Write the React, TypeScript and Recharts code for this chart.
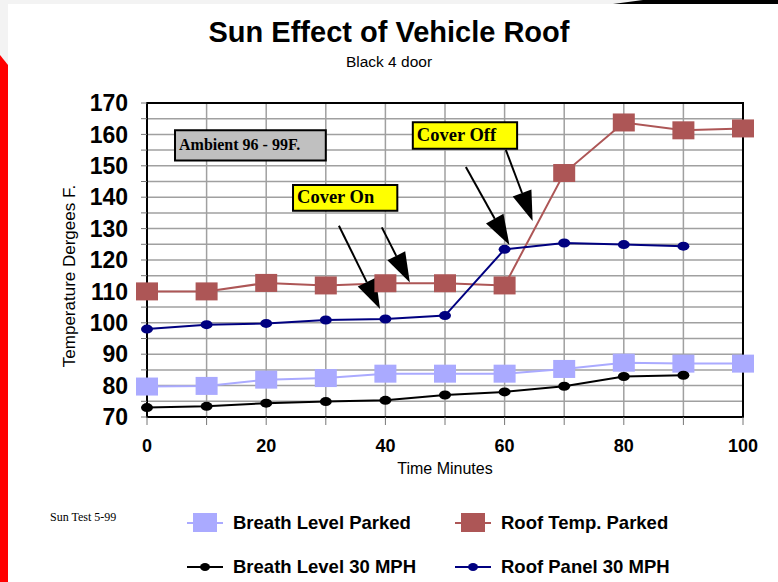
import React from 'react';
import { LineChart, Line, XAxis, YAxis, CartesianGrid, ReferenceArea, ReferenceLine } from 'recharts';

// readings taken every 10 minutes
const minutes = [0, 10, 20, 30, 40, 50, 60, 70, 80, 90, 100];
const breathParked = [79.7, 79.9, 81.9, 82.4, 83.8, 83.8, 83.8, 85.3, 87.3, 87, 87];
const roofParked = [110, 110, 112.7, 111.9, 112.6, 112.6, 111.9, 147.7, 163.8, 161.3, 161.9];
const breath30 = [73, 73.4, 74.4, 74.9, 75.3, 77, 78, 79.8, 82.9, 83.3, null];
const roof30 = [98, 99.4, 99.8, 100.9, 101.2, 102.3, 123.4, 125.4, 124.9, 124.4, null];

const xTicks = [0, 10, 20, 30, 40, 50, 60, 70, 80, 90, 100];
const yTicks = [70, 75, 80, 85, 90, 95, 100, 105, 110, 115, 120, 125, 130, 135, 140, 145, 150, 155, 160, 165, 170];

const data = minutes.map((m, i) => ({
    minute: m,
    breathParked: breathParked[i],
    roofParked: roofParked[i],
    breath30: breath30[i],
    roof30: roof30[i],
}));

const series = [
    { key: 'breathParked', name: 'Breath Level Parked', color: '#aaaaff', marker: 'square' },
    { key: 'roofParked', name: 'Roof Temp. Parked', color: '#ad5656', marker: 'square' },
    { key: 'breath30', name: 'Breath Level 30 MPH', color: '#000000', marker: 'dot' },
    { key: 'roof30', name: 'Roof Panel 30 MPH', color: '#000080', marker: 'dot' },
];

// callout boxes and arrows, in chart units
const notes = [
    { text: 'Ambient 96 - 99F.', x1: 4.7, x2: 30, y1: 151.7, y2: 161.3, fill: '#c0c0c0', size: 16 },
    { text: 'Cover On', x1: 24.5, x2: 42, y1: 135.7, y2: 143.9, fill: '#ffff00', size: 18.5 },
    { text: 'Cover Off', x1: 44.6, x2: 62.1, y1: 155.4, y2: 163.9, fill: '#ffff00', size: 18.5 },
];
const arrows = [
    { from: [32.2, 130.9], to: [39.1, 104.4] },
    { from: [39.4, 130.4], to: [44.1, 112.8] },
    { from: [53.5, 149.6], to: [60.8, 124.8] },
    { from: [60.2, 155.1], to: [64.7, 132.4] },
];

const markerFor = (color: string, marker: string) => (props: any) => {
    const { cx, cy, index } = props;
    if (cx == null || cy == null || props.value == null) return <g key={index} />;
    if (marker === 'square') {
        return <rect key={index} x={cx - 11} y={cy - 9} width={22} height={18} fill={color} />;
    }
    return <ellipse key={index} cx={cx} cy={cy} rx={6} ry={4.5} fill={color} />;
};

const Arrow = (props: any) => {
    const { x1, y1, x2, y2 } = props;
    const dx = x2 - x1;
    const dy = y2 - y1;
    const len = Math.hypot(dx, dy) || 1;
    const ux = dx / len;
    const uy = dy / len;
    const bx = x2 - ux * 30;
    const by = y2 - uy * 30;
    const px = -uy * 10;
    const py = ux * 10;
    return (
        <g>
            <line x1={x1} y1={y1} x2={bx} y2={by} stroke="#000" strokeWidth={2} />
            <polygon points={`${x2},${y2} ${bx + px},${by + py} ${bx - px},${by - py}`} fill="#000" />
        </g>
    );
};

const noteLabel = (text: string, size: number) => (p: any) => {
    const vb = p.viewBox || {};
    return (
        <text
            x={vb.x + 4}
            y={vb.y + vb.height / 2 + size * 0.3}
            fontFamily="'Liberation Serif', 'Times New Roman', serif"
            fontWeight="bold"
            fontSize={size}
            fill="#000"
        >
            {text}
        </text>
    );
};

const LegendIcon = ({ color, marker }: { color: string; marker: string }) => (
    <svg width={36} height={24}>
        <line x1={0} y1={12} x2={36} y2={12} stroke={color} strokeWidth={2} />
        {marker === 'square' ? (
            <rect x={6} y={2} width={24} height={19} fill={color} />
        ) : (
            <ellipse cx={18} cy={12} rx={5} ry={4} fill={color} />
        )}
    </svg>
);

export default function App() {
    return (
        <div
            style={{
                position: 'absolute',
                left: 0,
                top: 0,
                width: 778,
                height: 582,
                background: '#fff',
                overflow: 'hidden',
                fontFamily: "'Liberation Sans', Arial, sans-serif",
            }}
        >
            <svg width={778} height={582} style={{ position: 'absolute', left: 0, top: 0 }}>
                <rect x={0} y={0} width={778} height={4} fill="#f3f3f3" />
                <rect x={0} y={0} width={8} height={582} fill="#f3f3f3" />
                <polygon points="0,55 8,65 8,582 0,582" fill="#ff0000" />
                <polygon points="643,0 778,0 778,4 613,4" fill="#000" />
            </svg>

            <div style={{ position: 'absolute', top: 16, width: 778, textAlign: 'center', fontSize: 29, fontWeight: 'bold' }}>
                Sun Effect of Vehicle Roof
            </div>
            <div style={{ position: 'absolute', top: 53, width: 778, textAlign: 'center', fontSize: 15.5 }}>
                Black 4 door
            </div>

            <div style={{ position: 'absolute', left: 0, top: 0 }}>
                <LineChart width={778} height={582} data={data} margin={{ top: 103, right: 35, left: 0, bottom: 105 }}>
                    <CartesianGrid stroke="#a0a0a0" strokeWidth={1.5} />
                    <XAxis
                        dataKey="minute"
                        type="number"
                        domain={[0, 100]}
                        ticks={xTicks}
                        interval={0}
                        height={60}
                        tickFormatter={(v: number) => (v % 20 === 0 ? String(v) : '')}
                        tick={{ fontSize: 18, fontWeight: 'bold', fill: '#000' }}
                        tickSize={8}
                        tickMargin={14}
                        axisLine={{ stroke: '#000', strokeWidth: 2 }}
                        tickLine={{ stroke: '#777' }}
                        label={(p: any) => {
                            const vb = p.viewBox || {};
                            return (
                                <text x={vb.x + vb.width / 2} y={vb.y + 57} textAnchor="middle" fontSize={16} fill="#000">
                                    Time Minutes
                                </text>
                            );
                        }}
                    />
                    <YAxis
                        type="number"
                        domain={[70, 170]}
                        ticks={yTicks}
                        interval={0}
                        width={147}
                        tickFormatter={(v: number) => (v % 10 === 0 ? String(v) : '')}
                        tick={{ fontSize: 23, fontWeight: 'bold', fill: '#000' }}
                        tickSize={6}
                        tickMargin={13}
                        axisLine={{ stroke: '#000', strokeWidth: 2 }}
                        tickLine={{ stroke: '#777' }}
                        label={(p: any) => {
                            const vb = p.viewBox || {};
                            const cx = vb.x + vb.width / 2 - 4;
                            const cy = vb.y + vb.height / 2 + 16;
                            return (
                                <text
                                    x={cx}
                                    y={cy}
                                    transform={`rotate(-90, ${cx}, ${cy})`}
                                    textAnchor="middle"
                                    dominantBaseline="central"
                                    fontSize={17}
                                    fill="#000"
                                >
                                    Temperature Dergees F.
                                </text>
                            );
                        }}
                    />
                    <ReferenceArea x1={0} x2={100} y1={70} y2={170} fill="none" stroke="#000" strokeWidth={2} fillOpacity={0} />
                    {series.map((s) => (
                        <Line
                            key={s.key}
                            type="linear"
                            dataKey={s.key}
                            name={s.name}
                            stroke={s.color}
                            strokeWidth={2}
                            dot={markerFor(s.color, s.marker)}
                            activeDot={false}
                            isAnimationActive={false}
                        />
                    ))}
                    {notes.map((n) => (
                        <ReferenceArea
                            key={n.text}
                            x1={n.x1}
                            x2={n.x2}
                            y1={n.y1}
                            y2={n.y2}
                            fill={n.fill}
                            fillOpacity={1}
                            stroke="#000"
                            strokeWidth={2}
                            label={noteLabel(n.text, n.size)}
                        />
                    ))}
                    {arrows.map((a, i) => (
                        <ReferenceLine
                            key={i}
                            segment={[{ x: a.from[0], y: a.from[1] }, { x: a.to[0], y: a.to[1] }]}
                            shape={Arrow}
                        />
                    ))}
                </LineChart>
            </div>

            <div
                style={{
                    position: 'absolute',
                    left: 50,
                    top: 510,
                    fontFamily: "'Liberation Serif', 'Times New Roman', serif",
                    fontSize: 12,
                }}
            >
                Sun Test 5-99
            </div>

            <div
                style={{
                    position: 'absolute',
                    left: 187,
                    top: 501,
                    display: 'grid',
                    gridTemplateColumns: '268px auto',
                    gridAutoRows: '44px',
                    alignItems: 'center',
                }}
            >
                {series.map((s) => (
                    <div key={s.key} style={{ display: 'flex', alignItems: 'center' }}>
                        <LegendIcon color={s.color} marker={s.marker} />
                        <span style={{ marginLeft: 10, fontSize: 18.5, fontWeight: 'bold' }}>{s.name}</span>
                    </div>
                ))}
            </div>
        </div>
    );
}
